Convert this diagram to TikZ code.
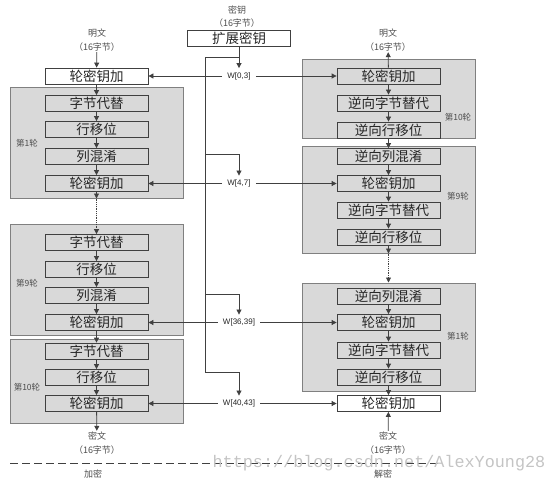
\documentclass[tikz,border=0pt]{standalone}
\usepackage{fontspec}
\usepackage{graphicx}
\setmainfont{Liberation Serif}
\newfontfamily\cjk{Noto Sans CJK SC}
\newfontfamily\labfont{Liberation Sans}
\newfontfamily\wmfont{Liberation Mono}
\usetikzlibrary{arrows.meta}
\definecolor{graybg}{HTML}{D9D9D9}
\definecolor{grayline}{HTML}{808080}
\definecolor{boxline}{HTML}{404040}
\definecolor{txt}{HTML}{262626}
\definecolor{lbltxt}{HTML}{4D4D4D}
\definecolor{linec}{HTML}{404040}
\definecolor{wm}{HTML}{C4C4C4}
\tikzset{
  opbox/.style={draw=boxline, line width=0.8pt, minimum width=103pt, minimum height=16pt, inner sep=0pt,
    font=\cjk\fontsize{13.5}{14}\selectfont, text=txt},
  wbox/.style={opbox, fill=white},
  roundbg/.style={draw=grayline, fill=graybg, line width=1pt, minimum width=173pt, inner sep=0pt},
  lbl/.style={font=\cjk\fontsize{9}{13.5}\selectfont, text=lbltxt, align=center, inner sep=1pt},
  rlbl/.style={font=\cjk\fontsize{8.5}{9}\selectfont, text=lbltxt, inner sep=0pt},
  wlbl/.style={font=\labfont\fontsize{8}{9}\selectfont, text=txt, inner xsep=5pt, inner ysep=4pt},
  arr/.style={-{Triangle[length=5pt,width=5pt]}, line width=0.8pt, draw=linec},
  plain/.style={line width=0.8pt, draw=linec},
}
\begin{document}
\begin{tikzpicture}[x=1pt,y=-1pt]
\useasboundingbox (0,0) rectangle (554,484);
% round backgrounds
\node[roundbg, minimum height=110pt] (G1) at (96.5,143) {};
\node[roundbg, minimum height=111pt] (G9) at (96.5,279.5) {};
\node[roundbg, minimum height=84pt] (G10) at (96.5,381) {};
\node[roundbg, minimum height=79pt] (RG10) at (388.5,99.5) {};
\node[roundbg, minimum height=106pt] (RG9) at (388.5,200) {};
\node[roundbg, minimum height=108pt] (RG1) at (388.5,337) {};
% round labels
\node[rlbl] (lr1) at (27,143) {第1轮};
\node[rlbl] (lr9) at (27,283) {第9轮};
\node[rlbl] (lr10) at (27,387) {第10轮};
\node[rlbl] (rr10) at (458,117) {第10轮};
\node[rlbl] (rr9) at (458,196) {第9轮};
\node[rlbl] (rr1) at (458,336) {第1轮};
% left (encryption)
\node[lbl] (ptL) at (97,40) {明文\\（16字节）};
\node[wbox] (L0) at (96.5,76) {轮密钥加};
\node[opbox] (L1a) at (96.5,103.5) {字节代替};
\node[opbox] (L1b) at (96.5,129.5) {行移位};
\node[opbox] (L1c) at (96.5,156.5) {列混淆};
\node[opbox] (L1d) at (96.5,183.5) {轮密钥加};
\node[opbox] (L9a) at (96.5,242.5) {字节代替};
\node[opbox] (L9b) at (96.5,269.5) {行移位};
\node[opbox] (L9c) at (96.5,295.5) {列混淆};
\node[opbox] (L9d) at (96.5,322.5) {轮密钥加};
\node[opbox] (L10a) at (96.5,351) {字节代替};
\node[opbox] (L10b) at (96.5,377.5) {行移位};
\node[opbox] (L10c) at (96.5,403.5) {轮密钥加};
\node[lbl] (ctL) at (97,443) {密文\\（16字节）};
% right (decryption)
\node[lbl] (ptR) at (388,40) {明文\\（16字节）};
\node[opbox] (R10a) at (388.5,76) {轮密钥加};
\node[opbox] (R10b) at (388.5,103) {逆向字节替代};
\node[opbox] (R10c) at (388.5,130) {逆向行移位};
\node[opbox] (R9a) at (388.5,156.5) {逆向列混淆};
\node[opbox] (R9b) at (388.5,183.5) {轮密钥加};
\node[opbox] (R9c) at (388.5,210) {逆向字节替代};
\node[opbox] (R9d) at (388.5,237) {逆向行移位};
\node[opbox] (R1a) at (388.5,296.5) {逆向列混淆};
\node[opbox] (R1b) at (388.5,322.5) {轮密钥加};
\node[opbox] (R1c) at (388.5,350) {逆向字节替代};
\node[opbox] (R1d) at (388.5,377) {逆向行移位};
\node[wbox] (R0) at (388.5,403.5) {轮密钥加};
\node[lbl] (ctR) at (388,443) {密文\\（16字节）};
% key
\node[lbl] (key) at (237,16.5) {密钥\\（16字节）};
\node[wbox] (KE) at (239,38) {扩展密钥};
\node[wlbl] (W0) at (239,76) {W[0,3]};
\node[wlbl] (W4) at (239,183.5) {W[4,7]};
\node[wlbl] (W36) at (239,322.5) {W[36,39]};
\node[wlbl] (W40) at (239,403.5) {W[40,43]};
\coordinate (tTop) at (205,57);
\coordinate (tB1) at (205,154);
\coordinate (tB2) at (205,294);
\coordinate (tBot) at (205,372);
% left arrows
\draw[arr] (ptL) -- (L0);
\draw[arr] (L0) -- (L1a);
\draw[arr] (L1a) -- (L1b);
\draw[arr] (L1b) -- (L1c);
\draw[arr] (L1c) -- (L1d);
\draw[arr] (L1d) -- (L1d.south |- G1.south);
\draw[arr, densely dotted] (L1d.south |- G1.south) -- (L9a.north);
\draw[arr] (L9a) -- (L9b);
\draw[arr] (L9b) -- (L9c);
\draw[arr] (L9c) -- (L9d);
\draw[arr] (L9d) -- (L10a);
\draw[arr] (L10a) -- (L10b);
\draw[arr] (L10b) -- (L10c);
\draw[arr] (L10c) -- (ctL);
% right arrows
\draw[arr] (R10a) -- (ptR);
\draw[arr] (R10a) -- (R10b);
\draw[arr] (R10b) -- (R10c);
\draw[arr] (R10c) -- (R9a);
\draw[arr] (R9a) -- (R9b);
\draw[arr] (R9b) -- (R9c);
\draw[arr] (R9c) -- (R9d);
\draw[arr] (R9d) -- (R9d.south |- RG9.south);
\draw[arr, densely dotted] (R9d.south |- RG9.south) -- (R1a.north |- RG1.north);
\draw[arr] (R1a) -- (R1b);
\draw[arr] (R1b) -- (R1c);
\draw[arr] (R1c) -- (R1d);
\draw[arr] (R1d) -- (R0);
\draw[arr] (ctR) -- (R0);
% key schedule lines
\draw[arr] (KE) -- (W0);
\draw[plain] (KE.south |- tTop) -- (tTop) -- (tBot);
\draw[arr] (tB1) -| (W4.north);
\draw[arr] (tB2) -| (W36.north);
\draw[arr] (tBot) -| (W40.north);
\draw[arr] (W0) -- (L0);
\draw[arr] (W0) -- (R10a);
\draw[arr] (W4) -- (L1d);
\draw[arr] (W4) -- (R9b);
\draw[arr] (W36) -- (L9d);
\draw[arr] (W36) -- (R1b);
\draw[arr] (W40) -- (L10c);
\draw[arr] (W40) -- (R0);
% separator
\draw[line width=0.8pt, draw=linec, dash pattern=on 8pt off 4pt] (10,463) -- (440,463);
\node[rlbl, font=\cjk\fontsize{9}{9}\selectfont] (enc) at (93,474) {加密};
\node[rlbl, font=\cjk\fontsize{9}{9}\selectfont] (dec) at (383,474) {解密};
\node[text=wm, inner sep=0pt, anchor=base, font=\wmfont\fontsize{16.8}{17}\selectfont] (wmk) at (379,467) {https://blog.csdn.net/AlexYoung28};
\end{tikzpicture}
\end{document}
